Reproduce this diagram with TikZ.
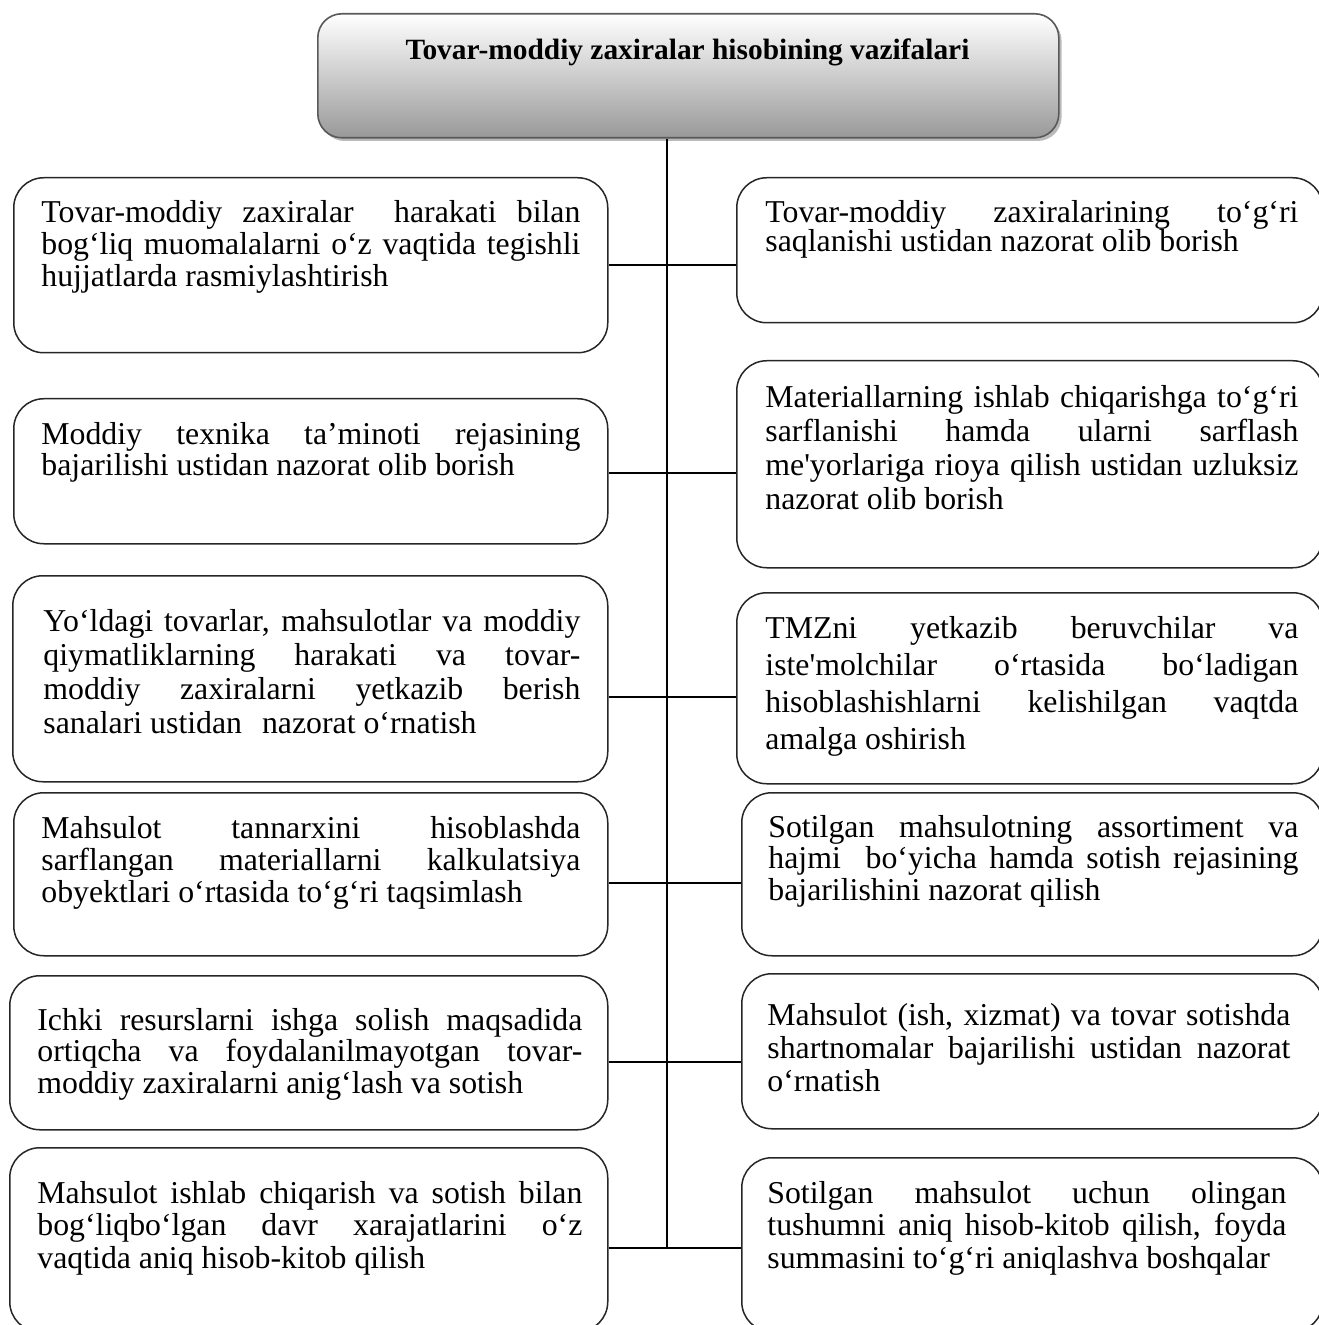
\documentclass[tikz,border=0pt]{standalone}
\usepackage{fontspec}
\setmainfont{Liberation Serif}
\usetikzlibrary{shadows}

% justified paragraph set at the top of a cell: width, baselineskip, text
\newcommand{\cellpar}[3]{\parbox[t]{#1}{\fontsize{15.9pt}{#2}\selectfont
  \tolerance=10000\hbadness=10000\hyphenpenalty=10000\emergencystretch=0pt #3}}

\begin{document}
\begin{tikzpicture}[x=0.5pt,y=-0.5pt,
  titlebox/.style={draw=black!65, line width=0.8pt, rounded corners=12pt,
    top color=white, bottom color=black!40,
    drop shadow={shadow xshift=1.4pt, shadow yshift=-1.6pt, fill=black!45, opacity=0.6}},
  cell/.style={draw=black!85, line width=0.75pt, rounded corners=15pt, inner sep=0pt},
  txt/.style={anchor=base west, inner sep=0pt},
  wire/.style={draw=black, line width=1pt}]

\useasboundingbox (0,0) rectangle (1318,1325);

% ---- heading ----
\node[titlebox, anchor=north west, minimum width=370.5pt, minimum height=62pt] (title) at (317,13) {};
\node[anchor=base, inner sep=0pt, font=\fontsize{14.7pt}{17pt}\selectfont\bfseries] (titletext) at (687.5,60)
  {Tovar-moddiy zaxiralar hisobining vazifalari};

% ---- left column ----
\node[cell, anchor=north west, minimum width=297pt, minimum height=87.5pt] (L1) at (13,177) {};
\node[cell, anchor=north west, minimum width=297pt, minimum height=72.5pt] (L2) at (13,398) {};
\node[cell, anchor=north west, minimum width=297.5pt, minimum height=103pt] (L3) at (12,575) {};
\node[cell, anchor=north west, minimum width=297pt, minimum height=81.5pt] (L4) at (13,792) {};
\node[cell, anchor=north west, minimum width=299pt, minimum height=77pt] (L5) at (9,975) {};
\node[cell, anchor=north west, minimum width=299pt, minimum height=92pt] (L6) at (9,1147) {};

% ---- right column ----
\node[cell, anchor=north west, minimum width=293pt, minimum height=72.5pt] (R1) at (736,177) {};
\node[cell, anchor=north west, minimum width=293pt, minimum height=103.5pt] (R2) at (736,360) {};
\node[cell, anchor=north west, minimum width=293pt, minimum height=95.5pt] (R3) at (736,592) {};
\node[cell, anchor=north west, minimum width=290.5pt, minimum height=81.5pt] (R4) at (741,792) {};
\node[cell, anchor=north west, minimum width=290.5pt, minimum height=77.5pt] (R5) at (741,973) {};
\node[cell, anchor=north west, minimum width=290.5pt, minimum height=87pt] (R6) at (741,1157) {};

% ---- texts ----
\node[txt] (tL1) at (41,223) {\cellpar{269.5pt}{15.85pt}{Tovar-moddiy zaxiralar\ \ harakati bilan\linebreak
  bog‘liq muomalalarni o‘z vaqtida tegishli\linebreak hujjatlarda rasmiylashtirish}};
\node[txt] (tL2) at (41,445) {\cellpar{269.5pt}{15.2pt}{Moddiy texnika ta’minoti rejasining\linebreak
  bajarilishi ustidan nazorat olib borish}};
\node[txt] (tL3) at (43,631) {\cellpar{268.5pt}{17.1pt}{Yo‘ldagi tovarlar, mahsulotlar va moddiy\linebreak
  qiymatliklarning harakati va tovar-\linebreak moddiy zaxiralarni yetkazib berish\linebreak
  sanalari ustidan\hspace{6pt} nazorat o‘rnatish}};
\node[txt] (tL4) at (41,838) {\cellpar{269.5pt}{16pt}{Mahsulot tannarxini hisoblashda\linebreak
  sarflangan materiallarni kalkulatsiya\linebreak obyektlari o‘rtasida to‘g‘ri taqsimlash}};
\node[txt] (tL5) at (37,1030) {\cellpar{272.5pt}{15.85pt}{Ichki resurslarni ishga solish maqsadida\linebreak
  ortiqcha va foydalanilmayotgan tovar-\linebreak moddiy zaxiralarni anig‘lash va sotish}};
\node[txt] (tL6) at (37,1203) {\cellpar{272.5pt}{16.25pt}{Mahsulot ishlab chiqarish va sotish bilan\linebreak
  bog‘liqbo‘lgan davr xarajatlarini o‘z\linebreak vaqtida aniq hisob-kitob qilish}};

\node[txt] (tR1) at (765,223) {\cellpar{266.5pt}{14.5pt}{Tovar-moddiy zaxiralarining to‘g‘ri\linebreak
  saqlanishi ustidan nazorat olib borish}};
\node[txt] (tR2) at (765,408) {\cellpar{266.5pt}{17pt}{Materiallarning ishlab chiqarishga to‘g‘ri\linebreak
  sarflanishi hamda ularni sarflash\linebreak me\textquotesingle yorlariga rioya qilish ustidan uzluksiz\linebreak
  nazorat olib borish}};
\node[txt] (tR3) at (765,638) {\cellpar{266.5pt}{18.6pt}{TMZni yetkazib beruvchilar va\linebreak
  iste\textquotesingle molchilar o‘rtasida bo‘ladigan\linebreak hisoblashishlarni kelishilgan vaqtda\linebreak
  amalga oshirish}};
\node[txt] (tR4) at (768,837) {\cellpar{265pt}{15.85pt}{Sotilgan mahsulotning assortiment va\linebreak
  hajmi\ \ bo‘yicha hamda sotish rejasining\linebreak bajarilishini nazorat qilish}};
\node[txt] (tR5) at (767,1025) {\cellpar{261.5pt}{16.65pt}{Mahsulot (ish, xizmat) va tovar sotishda\linebreak
  shartnomalar bajarilishi ustidan nazorat\linebreak o‘rnatish}};
\node[txt] (tR6) at (767,1203) {\cellpar{259.5pt}{16.25pt}{Sotilgan mahsulot uchun olingan\linebreak
  tushumni aniq hisob-kitob qilish, foyda\linebreak summasini to‘g‘ri aniqlashva boshqalar}};

% ---- junctions on the spine ----
\coordinate (j1) at (667,265);
\coordinate (j2) at (667,473);
\coordinate (j3) at (667,697);
\coordinate (j4) at (667,883);
\coordinate (j5) at (667,1062);
\coordinate (j6) at (667,1248);

% ---- connectors ----
\draw[wire] (title.south -| j1) -- (j6);
\foreach \k/\a/\b in {1/L1/R1,2/L2/R2,3/L3/R3,4/L4/R4,5/L5/R5,6/L6/R6}
  \draw[wire] (j\k -| \a.east) -- (j\k -| \b.west);

\end{tikzpicture}
\end{document}
